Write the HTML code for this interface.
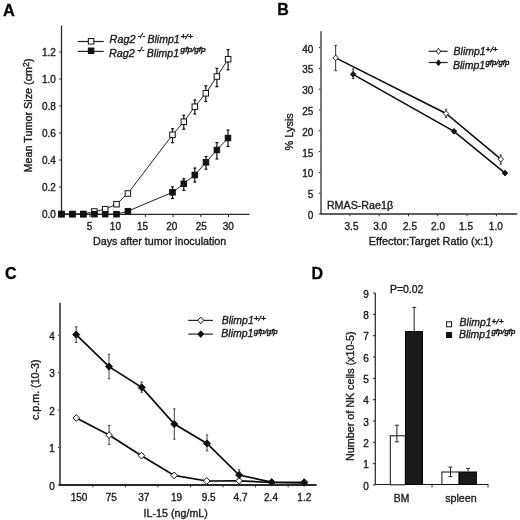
<!DOCTYPE html>
<html><head><meta charset="utf-8"><style>
html,body{margin:0;padding:0;background:#fff;width:520px;height:520px;overflow:hidden}
svg{display:block;font-family:"Liberation Sans", sans-serif;will-change:transform;filter:blur(0.35px)}
text{stroke:#1a1a1a;stroke-width:0.35px;paint-order:stroke}
.sp{stroke-width:0.5px}
</style></head><body>
<svg width="520" height="520" viewBox="0 0 520 520">
<rect width="520" height="520" fill="#fff"/>
<text x="2.9" y="16" font-size="16.4" text-anchor="start" font-style="normal" font-weight="bold" fill="#000" >A</text>
<line x1="61.5" y1="25.5" x2="61.5" y2="214.5" stroke="#2a2a2a" stroke-width="1.3"/>
<line x1="61" y1="214.3" x2="249.5" y2="214.3" stroke="#2a2a2a" stroke-width="1.3"/>
<line x1="59.3" y1="214" x2="61.5" y2="214" stroke="#2a2a2a" stroke-width="1"/>
<text x="55.8" y="217.7" font-size="10" text-anchor="end" font-style="normal" font-weight="normal" fill="#1a1a1a" >0.0</text>
<line x1="59.3" y1="187" x2="61.5" y2="187" stroke="#2a2a2a" stroke-width="1"/>
<text x="55.8" y="190.7" font-size="10" text-anchor="end" font-style="normal" font-weight="normal" fill="#1a1a1a" >0.2</text>
<line x1="59.3" y1="160" x2="61.5" y2="160" stroke="#2a2a2a" stroke-width="1"/>
<text x="55.8" y="163.7" font-size="10" text-anchor="end" font-style="normal" font-weight="normal" fill="#1a1a1a" >0.4</text>
<line x1="59.3" y1="133" x2="61.5" y2="133" stroke="#2a2a2a" stroke-width="1"/>
<text x="55.8" y="136.7" font-size="10" text-anchor="end" font-style="normal" font-weight="normal" fill="#1a1a1a" >0.6</text>
<line x1="59.3" y1="106" x2="61.5" y2="106" stroke="#2a2a2a" stroke-width="1"/>
<text x="55.8" y="109.7" font-size="10" text-anchor="end" font-style="normal" font-weight="normal" fill="#1a1a1a" >0.8</text>
<line x1="59.3" y1="79" x2="61.5" y2="79" stroke="#2a2a2a" stroke-width="1"/>
<text x="55.8" y="82.7" font-size="10" text-anchor="end" font-style="normal" font-weight="normal" fill="#1a1a1a" >1.0</text>
<line x1="59.3" y1="52" x2="61.5" y2="52" stroke="#2a2a2a" stroke-width="1"/>
<text x="55.8" y="55.7" font-size="10" text-anchor="end" font-style="normal" font-weight="normal" fill="#1a1a1a" >1.2</text>
<line x1="90.0" y1="214" x2="90.0" y2="217" stroke="#2a2a2a" stroke-width="1"/>
<line x1="117.69999999999999" y1="214" x2="117.69999999999999" y2="217" stroke="#2a2a2a" stroke-width="1"/>
<line x1="145.39999999999998" y1="214" x2="145.39999999999998" y2="217" stroke="#2a2a2a" stroke-width="1"/>
<line x1="173.1" y1="214" x2="173.1" y2="217" stroke="#2a2a2a" stroke-width="1"/>
<line x1="200.8" y1="214" x2="200.8" y2="217" stroke="#2a2a2a" stroke-width="1"/>
<line x1="228.5" y1="214" x2="228.5" y2="217" stroke="#2a2a2a" stroke-width="1"/>
<text x="89.5" y="230.4" font-size="10" text-anchor="middle" font-style="normal" font-weight="normal" fill="#1a1a1a" >5</text>
<text x="115.4" y="230.4" font-size="10" text-anchor="middle" font-style="normal" font-weight="normal" fill="#1a1a1a" >10</text>
<text x="142.6" y="230.4" font-size="10" text-anchor="middle" font-style="normal" font-weight="normal" fill="#1a1a1a" >15</text>
<text x="171.7" y="230.4" font-size="10" text-anchor="middle" font-style="normal" font-weight="normal" fill="#1a1a1a" >20</text>
<text x="201.2" y="230.4" font-size="10" text-anchor="middle" font-style="normal" font-weight="normal" fill="#1a1a1a" >25</text>
<text x="228.3" y="230.4" font-size="10" text-anchor="middle" font-style="normal" font-weight="normal" fill="#1a1a1a" >30</text>
<text transform="translate(93,244.8) scale(1.04,1)" font-size="10.3" text-anchor="start" font-style="normal" font-weight="normal" fill="#1a1a1a" >Days after tumor inoculation</text>
<text transform="translate(31.5,172.6) rotate(-90) scale(1.045,1)" font-size="10.35" fill="#1a1a1a">Mean Tumor Size (cm<tspan dy="-2.6" font-size="8.3">2</tspan><tspan dy="2.6">)</tspan></text>
<polyline points="61.5,214 72.4,214 83.3,214 94.4,211.5 105.2,209.2 116.5,204.2 127.9,193.5 172.5,134.8 183.8,121.7 194.8,106.7 205.8,93.3 216.9,76.5 228.1,59.2" fill="none" stroke="#222" stroke-width="1" stroke-linejoin="miter"/>
<polyline points="61.5,214.2 72.4,214.2 83.3,214.2 94.4,214.2 105.2,214.2 116.5,214.2 127.9,211.2 172.5,192.3 183.8,183.7 194.8,175 206,162.3 216.9,150 228,138" fill="none" stroke="#222" stroke-width="1" stroke-linejoin="miter"/>
<line x1="172.5" y1="128.7" x2="172.5" y2="142.7" stroke="#111" stroke-width="1.2"/>
<line x1="171.0" y1="128.7" x2="174.0" y2="128.7" stroke="#111" stroke-width="1.2"/>
<line x1="171.0" y1="142.7" x2="174.0" y2="142.7" stroke="#111" stroke-width="1.2"/>
<line x1="183.8" y1="115.2" x2="183.8" y2="129.2" stroke="#111" stroke-width="1.2"/>
<line x1="182.3" y1="115.2" x2="185.3" y2="115.2" stroke="#111" stroke-width="1.2"/>
<line x1="182.3" y1="129.2" x2="185.3" y2="129.2" stroke="#111" stroke-width="1.2"/>
<line x1="194.8" y1="100" x2="194.8" y2="114" stroke="#111" stroke-width="1.2"/>
<line x1="193.3" y1="100" x2="196.3" y2="100" stroke="#111" stroke-width="1.2"/>
<line x1="193.3" y1="114" x2="196.3" y2="114" stroke="#111" stroke-width="1.2"/>
<line x1="205.8" y1="85.8" x2="205.8" y2="101.5" stroke="#111" stroke-width="1.2"/>
<line x1="204.3" y1="85.8" x2="207.3" y2="85.8" stroke="#111" stroke-width="1.2"/>
<line x1="204.3" y1="101.5" x2="207.3" y2="101.5" stroke="#111" stroke-width="1.2"/>
<line x1="216.9" y1="68.3" x2="216.9" y2="86.7" stroke="#111" stroke-width="1.2"/>
<line x1="215.4" y1="68.3" x2="218.4" y2="68.3" stroke="#111" stroke-width="1.2"/>
<line x1="215.4" y1="86.7" x2="218.4" y2="86.7" stroke="#111" stroke-width="1.2"/>
<line x1="228.1" y1="49.6" x2="228.1" y2="69.8" stroke="#111" stroke-width="1.2"/>
<line x1="226.6" y1="49.6" x2="229.6" y2="49.6" stroke="#111" stroke-width="1.2"/>
<line x1="226.6" y1="69.8" x2="229.6" y2="69.8" stroke="#111" stroke-width="1.2"/>
<line x1="172.5" y1="186.9" x2="172.5" y2="198.5" stroke="#111" stroke-width="1.2"/>
<line x1="171.0" y1="186.9" x2="174.0" y2="186.9" stroke="#111" stroke-width="1.2"/>
<line x1="171.0" y1="198.5" x2="174.0" y2="198.5" stroke="#111" stroke-width="1.2"/>
<line x1="183.8" y1="178.7" x2="183.8" y2="190.4" stroke="#111" stroke-width="1.2"/>
<line x1="182.3" y1="178.7" x2="185.3" y2="178.7" stroke="#111" stroke-width="1.2"/>
<line x1="182.3" y1="190.4" x2="185.3" y2="190.4" stroke="#111" stroke-width="1.2"/>
<line x1="194.8" y1="168" x2="194.8" y2="182" stroke="#111" stroke-width="1.2"/>
<line x1="193.3" y1="168" x2="196.3" y2="168" stroke="#111" stroke-width="1.2"/>
<line x1="193.3" y1="182" x2="196.3" y2="182" stroke="#111" stroke-width="1.2"/>
<line x1="206" y1="156.5" x2="206" y2="169.2" stroke="#111" stroke-width="1.2"/>
<line x1="204.5" y1="156.5" x2="207.5" y2="156.5" stroke="#111" stroke-width="1.2"/>
<line x1="204.5" y1="169.2" x2="207.5" y2="169.2" stroke="#111" stroke-width="1.2"/>
<line x1="216.9" y1="142.7" x2="216.9" y2="159" stroke="#111" stroke-width="1.2"/>
<line x1="215.4" y1="142.7" x2="218.4" y2="142.7" stroke="#111" stroke-width="1.2"/>
<line x1="215.4" y1="159" x2="218.4" y2="159" stroke="#111" stroke-width="1.2"/>
<line x1="228" y1="130" x2="228" y2="146.5" stroke="#111" stroke-width="1.2"/>
<line x1="226.5" y1="130" x2="229.5" y2="130" stroke="#111" stroke-width="1.2"/>
<line x1="226.5" y1="146.5" x2="229.5" y2="146.5" stroke="#111" stroke-width="1.2"/>
<rect x="58.75" y="211.25" width="5.5" height="5.5" fill="#fff" stroke="#111" stroke-width="1"/>
<rect x="69.65" y="211.25" width="5.5" height="5.5" fill="#fff" stroke="#111" stroke-width="1"/>
<rect x="80.55" y="211.25" width="5.5" height="5.5" fill="#fff" stroke="#111" stroke-width="1"/>
<rect x="91.65" y="208.75" width="5.5" height="5.5" fill="#fff" stroke="#111" stroke-width="1"/>
<rect x="102.45" y="206.45" width="5.5" height="5.5" fill="#fff" stroke="#111" stroke-width="1"/>
<rect x="113.75" y="201.45" width="5.5" height="5.5" fill="#fff" stroke="#111" stroke-width="1"/>
<rect x="125.15" y="190.75" width="5.5" height="5.5" fill="#fff" stroke="#111" stroke-width="1"/>
<rect x="169.75" y="132.05" width="5.5" height="5.5" fill="#fff" stroke="#111" stroke-width="1"/>
<rect x="181.05" y="118.95" width="5.5" height="5.5" fill="#fff" stroke="#111" stroke-width="1"/>
<rect x="192.05" y="103.95" width="5.5" height="5.5" fill="#fff" stroke="#111" stroke-width="1"/>
<rect x="203.05" y="90.55" width="5.5" height="5.5" fill="#fff" stroke="#111" stroke-width="1"/>
<rect x="214.15" y="73.75" width="5.5" height="5.5" fill="#fff" stroke="#111" stroke-width="1"/>
<rect x="225.35" y="56.45" width="5.5" height="5.5" fill="#fff" stroke="#111" stroke-width="1"/>
<rect x="58.75" y="211.45" width="5.5" height="5.5" fill="#111" stroke="#111" stroke-width="1"/>
<rect x="69.65" y="211.45" width="5.5" height="5.5" fill="#111" stroke="#111" stroke-width="1"/>
<rect x="80.55" y="211.45" width="5.5" height="5.5" fill="#111" stroke="#111" stroke-width="1"/>
<rect x="91.65" y="211.45" width="5.5" height="5.5" fill="#111" stroke="#111" stroke-width="1"/>
<rect x="102.45" y="211.45" width="5.5" height="5.5" fill="#111" stroke="#111" stroke-width="1"/>
<rect x="113.75" y="211.45" width="5.5" height="5.5" fill="#111" stroke="#111" stroke-width="1"/>
<rect x="125.15" y="208.45" width="5.5" height="5.5" fill="#111" stroke="#111" stroke-width="1"/>
<rect x="169.75" y="189.55" width="5.5" height="5.5" fill="#111" stroke="#111" stroke-width="1"/>
<rect x="181.05" y="180.95" width="5.5" height="5.5" fill="#111" stroke="#111" stroke-width="1"/>
<rect x="192.05" y="172.25" width="5.5" height="5.5" fill="#111" stroke="#111" stroke-width="1"/>
<rect x="203.25" y="159.55" width="5.5" height="5.5" fill="#111" stroke="#111" stroke-width="1"/>
<rect x="214.15" y="147.25" width="5.5" height="5.5" fill="#111" stroke="#111" stroke-width="1"/>
<rect x="225.25" y="135.25" width="5.5" height="5.5" fill="#111" stroke="#111" stroke-width="1"/>
<line x1="77.8" y1="41.5" x2="103.8" y2="41.5" stroke="#222" stroke-width="1.2"/>
<rect x="88.35" y="38.55" width="5.5" height="5.5" fill="#fff" stroke="#111" stroke-width="1"/>
<line x1="77.8" y1="51.4" x2="103.8" y2="51.4" stroke="#222" stroke-width="1.2"/>
<rect x="88.35" y="48.05" width="5.5" height="5.5" fill="#111" stroke="#111" stroke-width="1"/>
<text transform="translate(109.6,42.7) scale(1.05,1)" font-size="10.3" text-anchor="start" font-style="italic" font-weight="normal" fill="#1a1a1a" >Rag2</text>
<text x="137.8" y="38" font-size="7.5" text-anchor="start" font-style="italic" font-weight="normal" fill="#1a1a1a" class="sp">-/-</text>
<text transform="translate(147.4,42.7) scale(1.035,1)" font-size="10.2" text-anchor="start" font-style="italic" font-weight="normal" fill="#1a1a1a" >Blimp1</text>
<text transform="translate(180.7,38.5) scale(1.08,1)" font-size="7.8" text-anchor="start" font-style="italic" font-weight="normal" fill="#1a1a1a" class="sp">+/+</text>
<text transform="translate(109.0,56.8) scale(1.05,1)" font-size="10.3" text-anchor="start" font-style="italic" font-weight="normal" fill="#1a1a1a" >Rag2</text>
<text x="137.2" y="52.2" font-size="7.5" text-anchor="start" font-style="italic" font-weight="normal" fill="#1a1a1a" class="sp">-/-</text>
<text transform="translate(146.8,56.6) scale(1.035,1)" font-size="10.2" text-anchor="start" font-style="italic" font-weight="normal" fill="#1a1a1a" >Blimp1</text>
<text transform="translate(180.6,52.4) scale(1.05,1)" font-size="7.8" text-anchor="start" font-style="italic" font-weight="normal" fill="#1a1a1a" class="sp">gfp/gfp</text>
<text x="277.2" y="14.8" font-size="16" text-anchor="start" font-style="normal" font-weight="bold" fill="#000" >B</text>
<line x1="321" y1="31.2" x2="321" y2="214" stroke="#787878" stroke-width="2"/>
<line x1="320.2" y1="213.9" x2="517.2" y2="213.9" stroke="#2a2a2a" stroke-width="1.5"/>
<line x1="318.8" y1="214.0" x2="320.2" y2="214.0" stroke="#222" stroke-width="1"/>
<text x="313.4" y="219.0" font-size="10" text-anchor="end" font-style="normal" font-weight="normal" fill="#1a1a1a" >0</text>
<line x1="318.8" y1="193.2" x2="320.2" y2="193.2" stroke="#222" stroke-width="1"/>
<text x="313.4" y="198.2" font-size="10" text-anchor="end" font-style="normal" font-weight="normal" fill="#1a1a1a" >5</text>
<line x1="318.8" y1="172.4" x2="320.2" y2="172.4" stroke="#222" stroke-width="1"/>
<text x="313.4" y="177.4" font-size="10" text-anchor="end" font-style="normal" font-weight="normal" fill="#1a1a1a" >10</text>
<line x1="318.8" y1="151.6" x2="320.2" y2="151.6" stroke="#222" stroke-width="1"/>
<text x="313.4" y="156.6" font-size="10" text-anchor="end" font-style="normal" font-weight="normal" fill="#1a1a1a" >15</text>
<line x1="318.8" y1="130.8" x2="320.2" y2="130.8" stroke="#222" stroke-width="1"/>
<text x="313.4" y="135.8" font-size="10" text-anchor="end" font-style="normal" font-weight="normal" fill="#1a1a1a" >20</text>
<line x1="318.8" y1="110.0" x2="320.2" y2="110.0" stroke="#222" stroke-width="1"/>
<text x="313.4" y="115.0" font-size="10" text-anchor="end" font-style="normal" font-weight="normal" fill="#1a1a1a" >25</text>
<line x1="318.8" y1="89.19999999999999" x2="320.2" y2="89.19999999999999" stroke="#222" stroke-width="1"/>
<text x="313.4" y="94.19999999999999" font-size="10" text-anchor="end" font-style="normal" font-weight="normal" fill="#1a1a1a" >30</text>
<line x1="318.8" y1="68.4" x2="320.2" y2="68.4" stroke="#222" stroke-width="1"/>
<text x="313.4" y="73.4" font-size="10" text-anchor="end" font-style="normal" font-weight="normal" fill="#1a1a1a" >35</text>
<line x1="318.8" y1="47.599999999999994" x2="320.2" y2="47.599999999999994" stroke="#222" stroke-width="1"/>
<text x="313.4" y="52.599999999999994" font-size="10" text-anchor="end" font-style="normal" font-weight="normal" fill="#1a1a1a" >40</text>
<text x="351.5" y="230.4" font-size="10" text-anchor="middle" font-style="normal" font-weight="normal" fill="#1a1a1a" >3.5</text>
<text x="380.2" y="230.4" font-size="10" text-anchor="middle" font-style="normal" font-weight="normal" fill="#1a1a1a" >3.0</text>
<text x="410" y="230.4" font-size="10" text-anchor="middle" font-style="normal" font-weight="normal" fill="#1a1a1a" >2.5</text>
<text x="438" y="230.4" font-size="10" text-anchor="middle" font-style="normal" font-weight="normal" fill="#1a1a1a" >2.0</text>
<text x="466" y="230.4" font-size="10" text-anchor="middle" font-style="normal" font-weight="normal" fill="#1a1a1a" >1.5</text>
<text x="495.8" y="230.4" font-size="10" text-anchor="middle" font-style="normal" font-weight="normal" fill="#1a1a1a" >1.0</text>
<line x1="349.90000000000003" y1="214" x2="349.90000000000003" y2="216.3" stroke="#333" stroke-width="1"/>
<line x1="379.20000000000005" y1="214" x2="379.20000000000005" y2="216.3" stroke="#333" stroke-width="1"/>
<line x1="408.5" y1="214" x2="408.5" y2="216.3" stroke="#333" stroke-width="1"/>
<line x1="437.8" y1="214" x2="437.8" y2="216.3" stroke="#333" stroke-width="1"/>
<line x1="467.1" y1="214" x2="467.1" y2="216.3" stroke="#333" stroke-width="1"/>
<line x1="496.40000000000003" y1="214" x2="496.40000000000003" y2="216.3" stroke="#333" stroke-width="1"/>
<text transform="translate(368.8,245.2) scale(1.04,1)" font-size="10.5" text-anchor="start" font-style="normal" font-weight="normal" fill="#1a1a1a" >Effector:Target Ratio (x:1)</text>
<text transform="translate(293.0,150.4) rotate(-90) scale(1.03,1)" font-size="10.6" fill="#1a1a1a">% Lysis</text>
<text x="326.9" y="208.5" font-size="10.7" text-anchor="start" font-style="normal" font-weight="normal" fill="#1a1a1a" >RMAS-Rae1β</text>
<polyline points="335.65,57.9 446,113.5 500.8,159.2" fill="none" stroke="#0a0a0a" stroke-width="1.5" stroke-linejoin="miter"/>
<polyline points="353.1,74.3 454,131.3 505,173.1" fill="none" stroke="#0a0a0a" stroke-width="1.5" stroke-linejoin="miter"/>
<line x1="335.65" y1="45.4" x2="335.65" y2="70.7" stroke="#333" stroke-width="1"/>
<line x1="334.4" y1="45.4" x2="336.9" y2="45.4" stroke="#333" stroke-width="1"/>
<line x1="334.4" y1="70.7" x2="336.9" y2="70.7" stroke="#333" stroke-width="1"/>
<line x1="446" y1="109.2" x2="446" y2="117.3" stroke="#333" stroke-width="1"/>
<line x1="444.75" y1="109.2" x2="447.25" y2="109.2" stroke="#333" stroke-width="1"/>
<line x1="444.75" y1="117.3" x2="447.25" y2="117.3" stroke="#333" stroke-width="1"/>
<line x1="500.8" y1="155" x2="500.8" y2="164" stroke="#333" stroke-width="1"/>
<line x1="499.55" y1="155" x2="502.05" y2="155" stroke="#333" stroke-width="1"/>
<line x1="499.55" y1="164" x2="502.05" y2="164" stroke="#333" stroke-width="1"/>
<line x1="353.1" y1="69" x2="353.1" y2="78.6" stroke="#333" stroke-width="1"/>
<line x1="351.85" y1="69" x2="354.35" y2="69" stroke="#333" stroke-width="1"/>
<line x1="351.85" y1="78.6" x2="354.35" y2="78.6" stroke="#333" stroke-width="1"/>
<polygon points="335.65,55.0 338.34999999999997,57.9 335.65,60.8 332.95,57.9" fill="#fff" stroke="#111" stroke-width="0.9"/>
<polygon points="446,110.6 448.7,113.5 446,116.4 443.3,113.5" fill="#fff" stroke="#111" stroke-width="0.9"/>
<polygon points="500.8,156.29999999999998 503.5,159.2 500.8,162.1 498.1,159.2" fill="#fff" stroke="#111" stroke-width="0.9"/>
<polygon points="353.1,71.39999999999999 355.8,74.3 353.1,77.2 350.40000000000003,74.3" fill="#111" stroke="#111" stroke-width="0.9"/>
<polygon points="454,128.4 456.7,131.3 454,134.20000000000002 451.3,131.3" fill="#111" stroke="#111" stroke-width="0.9"/>
<polygon points="505,170.2 507.7,173.1 505,176.0 502.3,173.1" fill="#111" stroke="#111" stroke-width="0.9"/>
<line x1="428.7" y1="51.3" x2="447.7" y2="51.3" stroke="#222" stroke-width="1.2"/>
<polygon points="438.5,48.3 440.7,51.3 438.5,54.3 436.3,51.3" fill="#fff" stroke="#111" stroke-width="0.9"/>
<line x1="428.7" y1="62.5" x2="447.7" y2="62.5" stroke="#222" stroke-width="1.2"/>
<polygon points="438.5,59.8 440.7,62.8 438.5,65.8 436.3,62.8" fill="#111" stroke="#111" stroke-width="0.9"/>
<text transform="translate(453.6,54.9) scale(1.03,1)" font-size="10.2" text-anchor="start" font-style="italic" font-weight="normal" fill="#1a1a1a" >Blimp1</text>
<text transform="translate(485.5,52.3) scale(1.08,1)" font-size="7.8" text-anchor="start" font-style="italic" font-weight="normal" fill="#1a1a1a" class="sp">+/+</text>
<text transform="translate(453.0,68.5) scale(1.03,1)" font-size="10.2" text-anchor="start" font-style="italic" font-weight="normal" fill="#1a1a1a" >Blimp1</text>
<text x="485.5" y="65.2" font-size="7.8" text-anchor="start" font-style="italic" font-weight="normal" fill="#1a1a1a" class="sp">gfp/gfp</text>
<text x="5.1" y="278.8" font-size="16" text-anchor="start" font-style="normal" font-weight="bold" fill="#000" >C</text>
<line x1="60" y1="302.8" x2="60" y2="485.5" stroke="#606060" stroke-width="2"/>
<line x1="59" y1="485" x2="316.6" y2="485" stroke="#2a2a2a" stroke-width="2"/>
<line x1="58" y1="485.0" x2="59" y2="485.0" stroke="#222" stroke-width="1"/>
<text x="54.8" y="489.8" font-size="10" text-anchor="end" font-style="normal" font-weight="normal" fill="#1a1a1a" >0</text>
<line x1="58" y1="447.55" x2="59" y2="447.55" stroke="#222" stroke-width="1"/>
<text x="54.8" y="452.35" font-size="10" text-anchor="end" font-style="normal" font-weight="normal" fill="#1a1a1a" >1</text>
<line x1="58" y1="410.1" x2="59" y2="410.1" stroke="#222" stroke-width="1"/>
<text x="54.8" y="414.90000000000003" font-size="10" text-anchor="end" font-style="normal" font-weight="normal" fill="#1a1a1a" >2</text>
<line x1="58" y1="372.65" x2="59" y2="372.65" stroke="#222" stroke-width="1"/>
<text x="54.8" y="377.45" font-size="10" text-anchor="end" font-style="normal" font-weight="normal" fill="#1a1a1a" >3</text>
<line x1="58" y1="335.2" x2="59" y2="335.2" stroke="#222" stroke-width="1"/>
<text x="54.8" y="340.0" font-size="10" text-anchor="end" font-style="normal" font-weight="normal" fill="#1a1a1a" >4</text>
<line x1="92.85" y1="485" x2="92.85" y2="487.3" stroke="#2a2a2a" stroke-width="1"/>
<line x1="125.39999999999999" y1="485" x2="125.39999999999999" y2="487.3" stroke="#2a2a2a" stroke-width="1"/>
<line x1="157.95" y1="485" x2="157.95" y2="487.3" stroke="#2a2a2a" stroke-width="1"/>
<line x1="190.5" y1="485" x2="190.5" y2="487.3" stroke="#2a2a2a" stroke-width="1"/>
<line x1="223.05" y1="485" x2="223.05" y2="487.3" stroke="#2a2a2a" stroke-width="1"/>
<line x1="255.59999999999997" y1="485" x2="255.59999999999997" y2="487.3" stroke="#2a2a2a" stroke-width="1"/>
<line x1="288.15" y1="485" x2="288.15" y2="487.3" stroke="#2a2a2a" stroke-width="1"/>
<text x="79" y="501" font-size="10" text-anchor="middle" font-style="normal" font-weight="normal" fill="#1a1a1a" >150</text>
<text x="111.2" y="501" font-size="10" text-anchor="middle" font-style="normal" font-weight="normal" fill="#1a1a1a" >75</text>
<text x="143.8" y="501" font-size="10" text-anchor="middle" font-style="normal" font-weight="normal" fill="#1a1a1a" >37</text>
<text x="176.5" y="501" font-size="10" text-anchor="middle" font-style="normal" font-weight="normal" fill="#1a1a1a" >19</text>
<text x="208.7" y="501" font-size="10" text-anchor="middle" font-style="normal" font-weight="normal" fill="#1a1a1a" >9.5</text>
<text x="240.5" y="501" font-size="10" text-anchor="middle" font-style="normal" font-weight="normal" fill="#1a1a1a" >4.7</text>
<text x="271" y="501" font-size="10" text-anchor="middle" font-style="normal" font-weight="normal" fill="#1a1a1a" >2.4</text>
<text x="304.3" y="501" font-size="10" text-anchor="middle" font-style="normal" font-weight="normal" fill="#1a1a1a" >1.2</text>
<text transform="translate(143.6,516.5) scale(1.03,1)" font-size="10.4" text-anchor="start" font-style="normal" font-weight="normal" fill="#1a1a1a" >IL-15 (ng/mL)</text>
<text transform="translate(39.3,420) rotate(-90) scale(1.06,1)" font-size="10.1" fill="#1a1a1a">c.p.m. (10-3)</text>
<polyline points="76.3,418 109.1,435.1 141.5,455.7 174.2,475.4 206.7,481 239.1,480.8 271.7,482.5 304.2,483" fill="none" stroke="#0a0a0a" stroke-width="1.7" stroke-linejoin="miter"/>
<polyline points="76.2,334.6 109,366.6 141.7,387.4 174.3,424.1 207,443.4 239.1,475 271.7,482.2 304.2,482.3" fill="none" stroke="#0a0a0a" stroke-width="1.7" stroke-linejoin="miter"/>
<line x1="76.2" y1="326.8" x2="76.2" y2="342.4" stroke="#444" stroke-width="1"/>
<line x1="74.95" y1="326.8" x2="77.45" y2="326.8" stroke="#444" stroke-width="1"/>
<line x1="74.95" y1="342.4" x2="77.45" y2="342.4" stroke="#444" stroke-width="1"/>
<line x1="109" y1="354.2" x2="109" y2="378.8" stroke="#444" stroke-width="1"/>
<line x1="107.75" y1="354.2" x2="110.25" y2="354.2" stroke="#444" stroke-width="1"/>
<line x1="107.75" y1="378.8" x2="110.25" y2="378.8" stroke="#444" stroke-width="1"/>
<line x1="141.7" y1="382" x2="141.7" y2="392.2" stroke="#444" stroke-width="1"/>
<line x1="140.45" y1="382" x2="142.95" y2="382" stroke="#444" stroke-width="1"/>
<line x1="140.45" y1="392.2" x2="142.95" y2="392.2" stroke="#444" stroke-width="1"/>
<line x1="174.3" y1="408.9" x2="174.3" y2="439.1" stroke="#444" stroke-width="1"/>
<line x1="173.05" y1="408.9" x2="175.55" y2="408.9" stroke="#444" stroke-width="1"/>
<line x1="173.05" y1="439.1" x2="175.55" y2="439.1" stroke="#444" stroke-width="1"/>
<line x1="207" y1="435" x2="207" y2="450.8" stroke="#444" stroke-width="1"/>
<line x1="205.75" y1="435" x2="208.25" y2="435" stroke="#444" stroke-width="1"/>
<line x1="205.75" y1="450.8" x2="208.25" y2="450.8" stroke="#444" stroke-width="1"/>
<line x1="239.1" y1="469.8" x2="239.1" y2="480" stroke="#444" stroke-width="1"/>
<line x1="237.85" y1="469.8" x2="240.35" y2="469.8" stroke="#444" stroke-width="1"/>
<line x1="237.85" y1="480" x2="240.35" y2="480" stroke="#444" stroke-width="1"/>
<line x1="109.1" y1="425.5" x2="109.1" y2="444.6" stroke="#444" stroke-width="1"/>
<line x1="107.85" y1="425.5" x2="110.35" y2="425.5" stroke="#444" stroke-width="1"/>
<line x1="107.85" y1="444.6" x2="110.35" y2="444.6" stroke="#444" stroke-width="1"/>
<polygon points="76.3,414.6 79.6,418 76.3,421.4 73.0,418" fill="#fff" stroke="#111" stroke-width="1"/>
<polygon points="109.1,431.70000000000005 112.39999999999999,435.1 109.1,438.5 105.8,435.1" fill="#fff" stroke="#111" stroke-width="1"/>
<polygon points="141.5,452.3 144.8,455.7 141.5,459.09999999999997 138.2,455.7" fill="#fff" stroke="#111" stroke-width="1"/>
<polygon points="174.2,472.0 177.5,475.4 174.2,478.79999999999995 170.89999999999998,475.4" fill="#fff" stroke="#111" stroke-width="1"/>
<polygon points="206.7,477.6 210.0,481 206.7,484.4 203.39999999999998,481" fill="#fff" stroke="#111" stroke-width="1"/>
<polygon points="239.1,477.40000000000003 242.4,480.8 239.1,484.2 235.79999999999998,480.8" fill="#fff" stroke="#111" stroke-width="1"/>
<polygon points="271.7,479.1 275.0,482.5 271.7,485.9 268.4,482.5" fill="#fff" stroke="#111" stroke-width="1"/>
<polygon points="304.2,479.6 307.5,483 304.2,486.4 300.9,483" fill="#fff" stroke="#111" stroke-width="1"/>
<polygon points="76.2,331.0 79.7,334.6 76.2,338.20000000000005 72.7,334.6" fill="#111" stroke="#111" stroke-width="1"/>
<polygon points="109,363.0 112.5,366.6 109,370.20000000000005 105.5,366.6" fill="#111" stroke="#111" stroke-width="1"/>
<polygon points="141.7,383.79999999999995 145.2,387.4 141.7,391.0 138.2,387.4" fill="#111" stroke="#111" stroke-width="1"/>
<polygon points="174.3,420.5 177.8,424.1 174.3,427.70000000000005 170.8,424.1" fill="#111" stroke="#111" stroke-width="1"/>
<polygon points="207,439.79999999999995 210.5,443.4 207,447.0 203.5,443.4" fill="#111" stroke="#111" stroke-width="1"/>
<polygon points="239.1,471.4 242.6,475 239.1,478.6 235.6,475" fill="#111" stroke="#111" stroke-width="1"/>
<polygon points="271.7,478.59999999999997 275.2,482.2 271.7,485.8 268.2,482.2" fill="#111" stroke="#111" stroke-width="1"/>
<polygon points="304.2,478.7 307.7,482.3 304.2,485.90000000000003 300.7,482.3" fill="#111" stroke="#111" stroke-width="1"/>
<line x1="188.3" y1="320.4" x2="212.9" y2="320.4" stroke="#222" stroke-width="1.2"/>
<polygon points="200.8,317.09999999999997 203.8,320.4 200.8,323.7 197.8,320.4" fill="#fff" stroke="#111" stroke-width="1"/>
<line x1="188.3" y1="334.1" x2="212.9" y2="334.1" stroke="#222" stroke-width="1.2"/>
<polygon points="200.8,330.8 203.8,334.1 200.8,337.40000000000003 197.8,334.1" fill="#111" stroke="#111" stroke-width="1"/>
<text transform="translate(221.7,323.6) scale(1.03,1)" font-size="10.2" text-anchor="start" font-style="italic" font-weight="normal" fill="#1a1a1a" >Blimp1</text>
<text transform="translate(253.7,321.2) scale(1.08,1)" font-size="7.8" text-anchor="start" font-style="italic" font-weight="normal" fill="#1a1a1a" class="sp">+/+</text>
<text transform="translate(221.3,337.3) scale(1.03,1)" font-size="10.2" text-anchor="start" font-style="italic" font-weight="normal" fill="#1a1a1a" >Blimp1</text>
<text x="253.8" y="333.7" font-size="7.8" text-anchor="start" font-style="italic" font-weight="normal" fill="#1a1a1a" class="sp">gfp/gfp</text>
<text x="311.5" y="279.2" font-size="16" text-anchor="start" font-style="normal" font-weight="bold" fill="#000" >D</text>
<line x1="375.3" y1="293" x2="375.3" y2="485" stroke="#222" stroke-width="1.2"/>
<line x1="375" y1="484.5" x2="488.3" y2="484.5" stroke="#222" stroke-width="1.2"/>
<line x1="373" y1="485.0" x2="375.3" y2="485.0" stroke="#222" stroke-width="1"/>
<text x="368.8" y="489.5" font-size="10" text-anchor="end" font-style="normal" font-weight="normal" fill="#1a1a1a" >0</text>
<line x1="373" y1="463.67" x2="375.3" y2="463.67" stroke="#222" stroke-width="1"/>
<text x="368.8" y="468.17" font-size="10" text-anchor="end" font-style="normal" font-weight="normal" fill="#1a1a1a" >1</text>
<line x1="373" y1="442.34000000000003" x2="375.3" y2="442.34000000000003" stroke="#222" stroke-width="1"/>
<text x="368.8" y="446.84000000000003" font-size="10" text-anchor="end" font-style="normal" font-weight="normal" fill="#1a1a1a" >2</text>
<line x1="373" y1="421.01" x2="375.3" y2="421.01" stroke="#222" stroke-width="1"/>
<text x="368.8" y="425.51" font-size="10" text-anchor="end" font-style="normal" font-weight="normal" fill="#1a1a1a" >3</text>
<line x1="373" y1="399.68" x2="375.3" y2="399.68" stroke="#222" stroke-width="1"/>
<text x="368.8" y="404.18" font-size="10" text-anchor="end" font-style="normal" font-weight="normal" fill="#1a1a1a" >4</text>
<line x1="373" y1="378.35" x2="375.3" y2="378.35" stroke="#222" stroke-width="1"/>
<text x="368.8" y="382.85" font-size="10" text-anchor="end" font-style="normal" font-weight="normal" fill="#1a1a1a" >5</text>
<line x1="373" y1="357.02" x2="375.3" y2="357.02" stroke="#222" stroke-width="1"/>
<text x="368.8" y="361.52" font-size="10" text-anchor="end" font-style="normal" font-weight="normal" fill="#1a1a1a" >6</text>
<line x1="373" y1="335.69" x2="375.3" y2="335.69" stroke="#222" stroke-width="1"/>
<text x="368.8" y="340.19" font-size="10" text-anchor="end" font-style="normal" font-weight="normal" fill="#1a1a1a" >7</text>
<line x1="373" y1="314.36" x2="375.3" y2="314.36" stroke="#222" stroke-width="1"/>
<text x="368.8" y="318.86" font-size="10" text-anchor="end" font-style="normal" font-weight="normal" fill="#1a1a1a" >8</text>
<line x1="373" y1="293.03000000000003" x2="375.3" y2="293.03000000000003" stroke="#222" stroke-width="1"/>
<text x="368.8" y="297.53000000000003" font-size="10" text-anchor="end" font-style="normal" font-weight="normal" fill="#1a1a1a" >9</text>
<line x1="432" y1="484.5" x2="432" y2="487.5" stroke="#222" stroke-width="1"/>
<line x1="488" y1="484.5" x2="488" y2="487.5" stroke="#222" stroke-width="1"/>
<text x="401.5" y="502" font-size="10.3" text-anchor="middle" font-style="normal" font-weight="normal" fill="#1a1a1a" >BM</text>
<text x="460.9" y="502" font-size="10.7" text-anchor="middle" font-style="normal" font-weight="normal" fill="#1a1a1a" >spleen</text>
<text transform="translate(353.6,461.0) rotate(-90) scale(1.045,1)" font-size="10.3" fill="#1a1a1a">Number of NK cells (x10-5)</text>
<rect x="390.3" y="435.8" width="15" height="49" fill="#fff" stroke="#111" stroke-width="1"/>
<rect x="405.5" y="331.6" width="17" height="152.9" fill="#1a1a1a" stroke="#000" stroke-width="1"/>
<rect x="441.9" y="472" width="17" height="12.5" fill="#fff" stroke="#111" stroke-width="1"/>
<rect x="459.4" y="472" width="17" height="12.5" fill="#1a1a1a" stroke="#000" stroke-width="1"/>
<line x1="396.9" y1="425.2" x2="396.9" y2="441.8" stroke="#222" stroke-width="1"/>
<line x1="394.9" y1="425.2" x2="398.9" y2="425.2" stroke="#222" stroke-width="1"/>
<line x1="394.9" y1="441.8" x2="398.9" y2="441.8" stroke="#222" stroke-width="1"/>
<line x1="414.2" y1="307.4" x2="414.2" y2="331.5" stroke="#444" stroke-width="1.2"/>
<line x1="412.2" y1="307.4" x2="416.2" y2="307.4" stroke="#444" stroke-width="1.2"/>
<line x1="450.5" y1="467.1" x2="450.5" y2="476.6" stroke="#222" stroke-width="1"/>
<line x1="448.5" y1="467.1" x2="452.5" y2="467.1" stroke="#222" stroke-width="1"/>
<line x1="448.5" y1="476.6" x2="452.5" y2="476.6" stroke="#222" stroke-width="1"/>
<line x1="468.1" y1="468.4" x2="468.1" y2="471.5" stroke="#444" stroke-width="1.2"/>
<line x1="466.1" y1="468.4" x2="470.1" y2="468.4" stroke="#444" stroke-width="1.2"/>
<text transform="translate(389.9,292.6) scale(1.03,1)" font-size="10.2" text-anchor="start" font-style="normal" font-weight="normal" fill="#1a1a1a" >P=0.02</text>
<rect x="446.6" y="321.8" width="5" height="5" fill="#fff" stroke="#111" stroke-width="1"/>
<rect x="446.6" y="332.5" width="5" height="5" fill="#111" stroke="#111" stroke-width="1"/>
<text transform="translate(459.6,326.3) scale(1.03,1)" font-size="10.2" text-anchor="start" font-style="italic" font-weight="normal" fill="#1a1a1a" >Blimp1</text>
<text transform="translate(491.4,323.8) scale(1.08,1)" font-size="7.8" text-anchor="start" font-style="italic" font-weight="normal" fill="#1a1a1a" class="sp">+/+</text>
<text transform="translate(458.9,337.9) scale(1.03,1)" font-size="10.2" text-anchor="start" font-style="italic" font-weight="normal" fill="#1a1a1a" >Blimp1</text>
<text x="491.5" y="334.4" font-size="7.8" text-anchor="start" font-style="italic" font-weight="normal" fill="#1a1a1a" class="sp">gfp/gfp</text>
</svg>
</body></html>
